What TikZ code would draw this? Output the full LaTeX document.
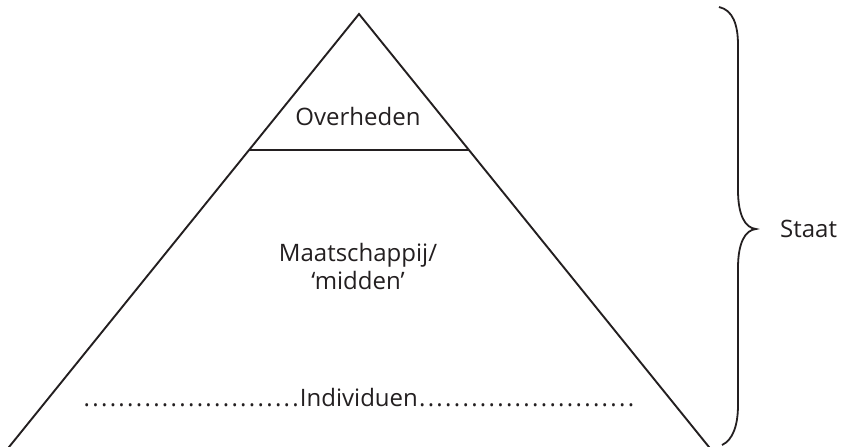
\documentclass[tikz,border=0pt]{standalone}
\usepackage{fontspec}
\setmainfont{Open Sans}
\definecolor{ink}{HTML}{231F20}
\newcommand{\dotrun}{\hbox to 217.5pt{\xleaders\hbox to 8.7pt{\hss.\hss}\hfill}}
\begin{document}
\begin{tikzpicture}[x=1pt,y=-1pt,
  edge/.style={draw=ink,line width=1.9pt,line join=miter},
  lbl/.style={text=ink,font=\fontsize{24}{28}\selectfont,inner sep=0pt,align=center}]
\useasboundingbox (0,0) rectangle (841,447);
\begin{scope}
\clip (0,0) rectangle (841,447);
\coordinate (apex) at (359,14);
\coordinate (bl) at (5,452);
\coordinate (br) at (713,452);
\coordinate (hl) at (249,150);
\coordinate (hr) at (469,150);
\draw[edge] (bl) -- (apex) -- (br);
\draw[edge] (hl) -- (hr);
\end{scope}
\coordinate (bt) at (719,7);
\coordinate (tip) at (756,229);
\coordinate (bb) at (722,445);
\draw[edge,line width=1.8pt] (bt) .. controls (733,10) and (738,25) .. (738,45) -- (738,190)
  .. controls (738,215) and (745,228) .. (tip)
  .. controls (745,230) and (738,243) .. (738,268) -- (738,405)
  .. controls (738,425) and (733,440) .. (bb);
\node[lbl,anchor=base] (over) at (358,125) {Overheden};
\node[lbl,anchor=base] (maat) at (358,289) {Maatschappij/\\‘midden’};
\node[lbl,anchor=base] (indiv) at (359,406) {\dotrun Individuen\dotrun};
\node[lbl,anchor=base west] (staat) at (780,237) {Staat};
\end{tikzpicture}
\end{document}
